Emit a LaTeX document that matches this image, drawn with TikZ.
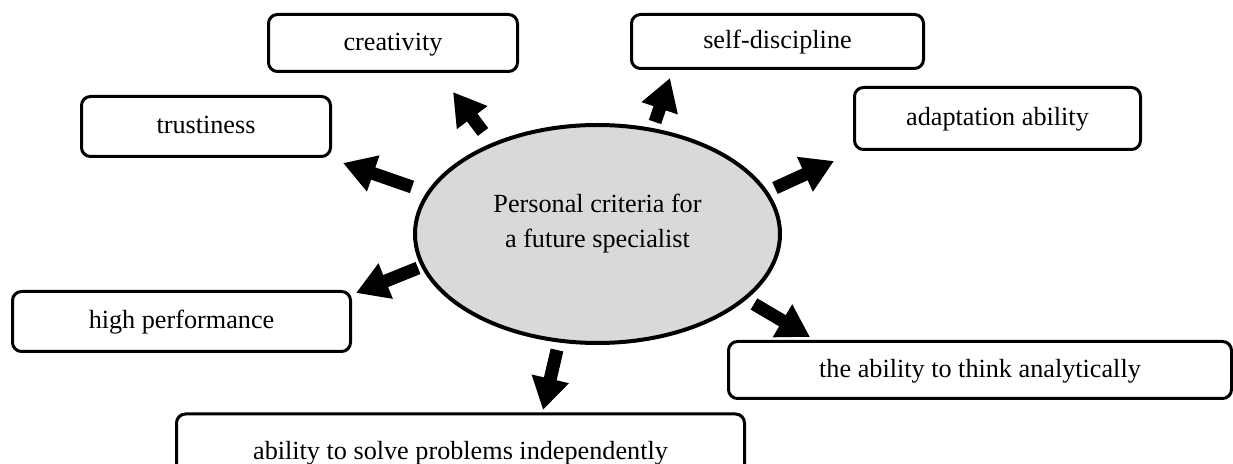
\documentclass[tikz,border=0pt]{standalone}
\usepackage{fontspec}
\setmainfont{Liberation Serif}
\usetikzlibrary{shapes.geometric,arrows.meta}
\definecolor{corefill}{HTML}{D9D9D9}
\begin{document}
\begin{tikzpicture}[x=0.5pt,y=-0.5pt,
  every node/.style={font=\fontsize{13.1}{17.5}\selectfont},
  crit/.style={draw, line width=1.5pt, rounded corners=4.5pt, inner sep=0pt,
    text height=0.92em, text depth=0.2em, fill=white},
  core/.style={ellipse, draw, line width=2pt, fill=corefill, inner sep=0pt,
    minimum width=182.5pt, minimum height=109pt},
  coretext/.style={align=center, inner sep=0pt},
  arr/.style={line width=6.5pt, -{Triangle[width=18pt,length=16pt]}}
]
\useasboundingbox (0,0) rectangle (1233,464);

% central ellipse
\node[core] (c) at (597.5,234) {};
\node[coretext] (ct) at (597.5,223.5) {Personal criteria for\\a future specialist};

% criteria boxes
\node[crit, minimum width=124.5pt, minimum height=28.5pt] (creat) at (393,43) {creativity};
\node[crit, minimum width=146pt, minimum height=27pt] (selfd) at (777.5,41.5) {self-discipline};
\node[crit, minimum width=143pt, minimum height=31pt] (adapt) at (997.5,118.5) {adaptation ability};
\node[crit, minimum width=124.5pt, minimum height=30pt] (trust) at (206,126.5) {trustiness};
\node[crit, minimum width=169pt, minimum height=30pt] (perf) at (181.5,321.5) {high performance};
\node[crit, minimum width=251.5pt, minimum height=28.5pt] (think) at (980,370) {the ability to think analytically};
\node[crit, minimum width=284pt, minimum height=38.5pt] (solve) at (460.5,452.5) {ability to solve problems independently};

% arrow end points
\coordinate (a1s) at (483,132); \coordinate (a1e) at (453,92);
\coordinate (a2s) at (655,122); \coordinate (a2e) at (670,78);
\coordinate (a3s) at (412,187); \coordinate (a3e) at (343,163);
\coordinate (a4s) at (775,188); \coordinate (a4e) at (834,161);
\coordinate (a5s) at (418,268); \coordinate (a5e) at (356,293);
\coordinate (a6s) at (754,304); \coordinate (a6e) at (810,337);
\coordinate (a7s) at (557,350); \coordinate (a7e) at (543,410);

\draw[arr] (a1s) -- (a1e);
\draw[arr] (a2s) -- (a2e);
\draw[arr] (a3s) -- (a3e);
\draw[arr] (a4s) -- (a4e);
\draw[arr] (a5s) -- (a5e);
\draw[arr] (a6s) -- (a6e);
\draw[arr] (a7s) -- (a7e);
\end{tikzpicture}
\end{document}
